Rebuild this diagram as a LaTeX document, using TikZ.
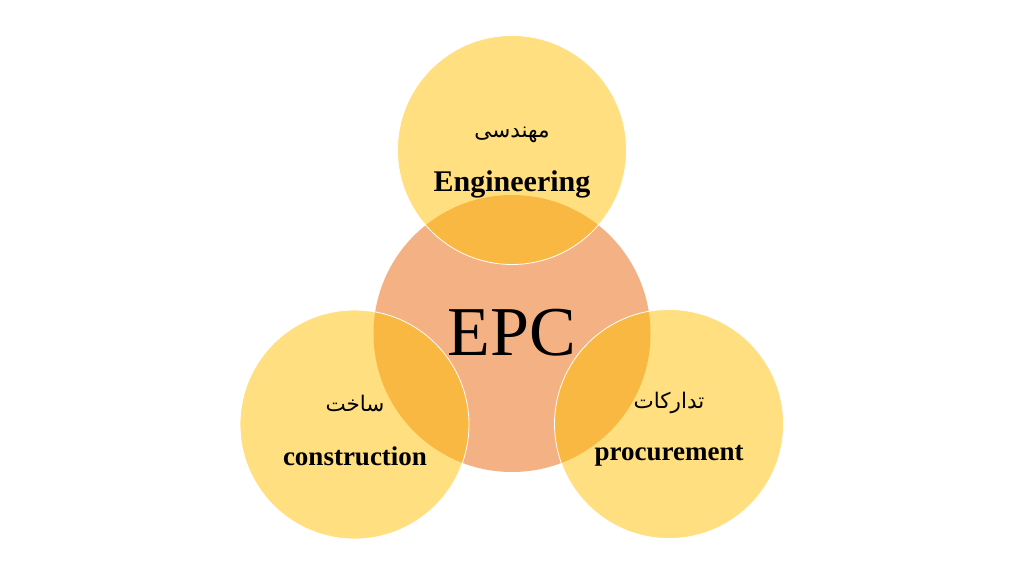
\documentclass[tikz,border=0pt]{standalone}
\usepackage{fontspec}
\setmainfont{Liberation Serif}
\newfontfamily\arabicfont[Script=Arabic]{DejaVu Sans}
\TeXXeTstate=1
\definecolor{goldc}{HTML}{FFC000}
\definecolor{salmonc}{HTML}{F4B183}
\begin{document}
\begin{tikzpicture}[x=1pt,y=-1pt,
  bigcirc/.style={circle,fill=salmonc,minimum size=277pt,inner sep=0pt},
  petal/.style={circle,fill=goldc,fill opacity=0.5,draw=white,line width=0.8pt,minimum size=229pt,inner sep=0pt},
  entext/.style={font=\bfseries\fontsize{27}{30}\selectfont,text=black},
  fatext/.style={font=\arabicfont\fontsize{21.5}{24}\selectfont,text=black}]
\useasboundingbox[fill=white] (0,0) rectangle (1024,576);
\node[bigcirc] (epc) at (512,333.5) {};
\node[petal] (eng) at (512,150) {};
\node[petal] (con) at (354.5,424.5) {};
\node[petal] (pro) at (669,424) {};
\node[font=\fontsize{70}{80}\selectfont] (epct) at (512,333) {EPC};
\node[fatext] (engfa) at (512,135) {\beginR مهندسی\endR};
\node[entext,font=\bfseries\fontsize{30}{33}\selectfont] (engen) at (512,184) {Engineering};
\node[fatext] (confa) at (355,403) {\beginR ساخت\endR};
\node[entext] (conen) at (355,456) {construction};
\node[fatext] (profa) at (669,403) {\beginR تدارکات\endR};
\node[entext] (proen) at (669,456) {procurement};
\end{tikzpicture}
\end{document}
